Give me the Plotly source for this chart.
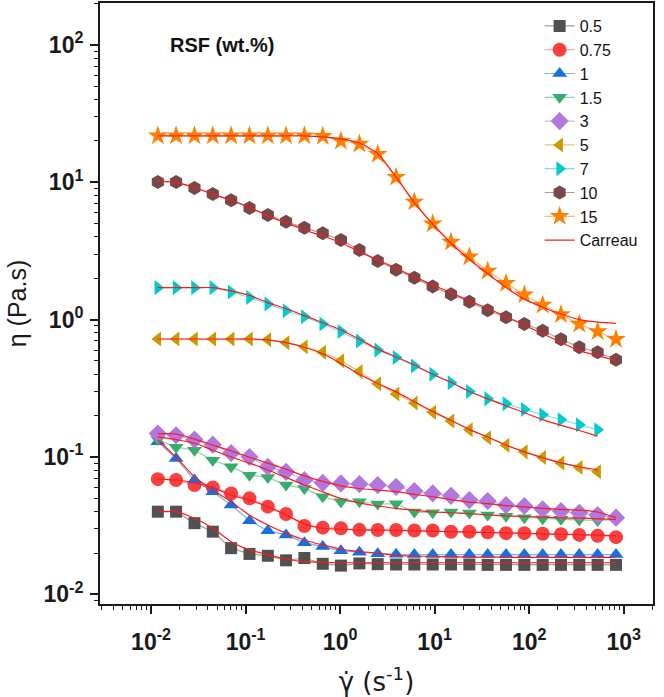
import plotly.graph_objects as go

# shear rate (s^-1), shared grid of the measurements
shear_rate = [0.0118, 0.0184, 0.0288, 0.045, 0.0703, 0.11, 0.172, 0.268, 0.419, 0.655,
              1.02, 1.6, 2.5, 3.91, 6.1, 9.54, 14.9, 23.3, 36.4, 56.9,
              88.9, 139, 217, 339, 530, 829]

series_names = ["0.5", "0.75", "1", "1.5", "3", "5", "7", "10", "15"]

x_tick_vals = [0.01, 0.1, 1, 10, 100, 1000]
x_tick_text = ["10<sup>-2</sup>", "10<sup>-1</sup>", "10<sup>0</sup>",
               "10<sup>1</sup>", "10<sup>2</sup>", "10<sup>3</sup>"]
y_tick_vals = [0.01, 0.1, 1, 10, 100]
y_tick_text = ["10<sup>-2</sup>", "10<sup>-1</sup>", "10<sup>0</sup>",
               "10<sup>1</sup>", "10<sup>2</sup>"]

eta_05 = [0.040, 0.040, 0.033, 0.0286, 0.0217, 0.0197, 0.0191, 0.0177, 0.0184, 0.0167,
          0.0162, 0.0168, 0.0166, 0.0165, 0.0165, 0.0165, 0.0165, 0.0165, 0.0164, 0.0164,
          0.0164, 0.0164, 0.0164, 0.0164, 0.0164, 0.0164]
eta_075 = [0.069, 0.068, 0.0625, 0.060, 0.0543, 0.050, 0.0435, 0.0385, 0.0315, 0.0306,
           0.0303, 0.0295, 0.0294, 0.0294, 0.0292, 0.0292, 0.0286, 0.0286, 0.0283, 0.0279,
           0.0279, 0.0276, 0.0274, 0.0271, 0.0267, 0.0261]
eta_1 = [0.129, 0.0976, 0.068, 0.0558, 0.0447, 0.0344, 0.0291, 0.0271, 0.0238, 0.0223,
         0.0208, 0.0203, 0.0198, 0.0196, 0.0195, 0.0195, 0.0195, 0.0195, 0.0195, 0.0195,
         0.0195, 0.0195, 0.0195, 0.0195, 0.0195, 0.0195]
eta_15 = [0.134, 0.118, 0.112, 0.0948, 0.0848, 0.0738, 0.071, 0.0625, 0.0591, 0.0514,
          0.0473, 0.0473, 0.0455, 0.0457, 0.0398, 0.0393, 0.0398, 0.0391, 0.0378, 0.0371,
          0.0362, 0.0355, 0.0352, 0.0349, 0.0345, 0.035]
eta_3 = [0.148, 0.144, 0.134, 0.123, 0.107, 0.100, 0.0848, 0.078, 0.068, 0.0649,
         0.0642, 0.0635, 0.0625, 0.0607, 0.0565, 0.0543, 0.0522, 0.0486, 0.0478, 0.0447,
         0.044, 0.0416, 0.0404, 0.0393, 0.0378, 0.0362]
eta_5 = [0.723, 0.723, 0.723, 0.723, 0.723, 0.723, 0.715, 0.68, 0.636, 0.578,
         0.503, 0.419, 0.341, 0.288, 0.247, 0.212, 0.183, 0.158, 0.138, 0.122,
         0.109, 0.099, 0.0906, 0.084, 0.078]
eta_7 = [1.71, 1.71, 1.71, 1.71, 1.59, 1.45, 1.30, 1.16, 1.05, 0.93,
         0.82, 0.70, 0.60, 0.53, 0.46, 0.40, 0.347, 0.30, 0.265, 0.244,
         0.222, 0.203, 0.187, 0.172, 0.158]
eta_10 = [10.05, 10.05, 9.1, 8.2, 7.4, 6.5, 5.77, 5.15, 4.66, 4.25,
          3.8, 3.21, 2.67, 2.31, 2.02, 1.74, 1.53, 1.35, 1.17, 1.04,
          0.93, 0.83, 0.72, 0.63, 0.58, 0.51]
eta_15wt = [21.8, 21.8, 21.8, 21.8, 21.8, 21.8, 21.8, 21.8, 21.8, 21.6,
            20.0, 19.0, 16.0, 10.9, 7.2, 4.98, 3.67, 2.87, 2.26, 1.84,
            1.52, 1.28, 1.09, 0.93, 0.82, 0.72]

# Carreau fits, read at the same shear rates
fit_05 = [0.040, 0.040, 0.0358, 0.0303, 0.0242, 0.0211, 0.0194, 0.0181, 0.0173, 0.0171,
          0.0170, 0.0170, 0.0170, 0.0170, 0.0170, 0.0170, 0.0170, 0.0170, 0.0170, 0.0170,
          0.0170, 0.0170, 0.0170, 0.0170, 0.0170, 0.0170]
fit_075 = [0.069, 0.068, 0.0648, 0.0601, 0.0528, 0.0486, 0.0435, 0.0378, 0.0326, 0.0303,
           0.0298, 0.0294, 0.0294, 0.0292, 0.029, 0.0288, 0.0286, 0.0284, 0.0282, 0.028,
           0.0278, 0.0276, 0.0274, 0.0272, 0.027, 0.0268]
fit_1 = [0.133, 0.0996, 0.0718, 0.0574, 0.0473, 0.0378, 0.032, 0.0279, 0.0249, 0.0229,
         0.0213, 0.0205, 0.0200, 0.0192, 0.019, 0.0189, 0.0188, 0.0187, 0.0187, 0.0186,
         0.0186, 0.0186, 0.0186, 0.0186, 0.0186, 0.0186]
fit_15 = [0.14, 0.134, 0.126, 0.112, 0.100, 0.0903, 0.0805, 0.071, 0.0625, 0.0557,
          0.0498, 0.0464, 0.044, 0.0423, 0.041, 0.0398, 0.0393, 0.0386, 0.038, 0.0373,
          0.0369, 0.0365, 0.036, 0.0359, 0.0355, 0.0352]
fit_3 = [0.148, 0.147, 0.135, 0.122, 0.111, 0.0996, 0.0903, 0.0814, 0.0729, 0.0664,
         0.0617, 0.059, 0.0575, 0.056, 0.0535, 0.0514, 0.049, 0.047, 0.0458, 0.0443,
         0.0433, 0.0423, 0.0416, 0.041, 0.0398, 0.0362]
fit_5 = [0.723, 0.723, 0.723, 0.723, 0.723, 0.723, 0.713, 0.68, 0.63, 0.564,
         0.48, 0.40, 0.343, 0.298, 0.253, 0.215, 0.185, 0.159, 0.14, 0.122,
         0.109, 0.099, 0.0906, 0.0849, 0.0806]
fit_7 = [1.71, 1.71, 1.71, 1.71, 1.62, 1.50, 1.33, 1.20, 1.07, 0.95,
         0.84, 0.72, 0.61, 0.535, 0.468, 0.40, 0.35, 0.30, 0.265, 0.236,
         0.21, 0.187, 0.17, 0.156, 0.142]
fit_10 = [10.3, 9.95, 9.2, 8.2, 7.4, 6.59, 5.67, 5.07, 4.49, 4.06,
          3.63, 3.12, 2.72, 2.37, 2.05, 1.79, 1.57, 1.37, 1.21, 1.05,
          0.91, 0.79, 0.684, 0.595, 0.547, 0.503]
fit_15wt = [21.8, 21.8, 21.8, 21.8, 21.8, 21.8, 21.8, 21.8, 21.8, 21.4,
            20.7, 19.3, 16.2, 10.9, 7.1, 4.95, 3.6, 2.75, 2.16, 1.71,
            1.41, 1.23, 1.10, 1.00, 0.96, 0.94]

measured = [eta_05, eta_075, eta_1, eta_15, eta_3, eta_5, eta_7, eta_10, eta_15wt]
fits = [fit_05, fit_075, fit_1, fit_15, fit_3, fit_5, fit_7, fit_10, fit_15wt]

colors = ["#515151", "#F84040", "#1A6FDF", "#37AD6B", "#B177DE",
          "#CC9900", "#00CBCC", "#774848", "#FF8000"]
line_colors = ["rgba(81,81,81,0.55)", "rgba(248,64,64,0.45)", "rgba(26,111,223,0.55)",
               "rgba(55,173,107,0.55)", "rgba(177,119,222,0.55)", "rgba(204,153,0,0.55)",
               "rgba(0,203,204,0.55)", "rgba(119,72,72,0.55)", "rgba(255,128,0,0.55)"]
symbols = ["square", "circle", "triangle-up", "triangle-down", "diamond",
           "triangle-left", "triangle-right", "hexagon", "star"]
sizes = [12, 14, 13, 13, 14, 13, 13, 14, 15]

fig = go.Figure()
for name, y, c, lc, sym, sz in zip(series_names, measured, colors, line_colors, symbols, sizes):
    fig.add_trace(go.Scatter(
        x=shear_rate[:len(y)], y=y, name=name, mode="lines+markers",
        line=dict(color=lc, width=1.2),
        marker=dict(symbol=sym, size=sz, color=c, line=dict(width=0)),
    ))

for i, f in enumerate(fits):
    fig.add_trace(go.Scatter(
        x=shear_rate[:len(f)], y=f, name="Carreau", mode="lines",
        line=dict(color="#FF1A1A", width=1.2, shape="spline", smoothing=0.6),
        showlegend=(i == 0), legendgroup="carreau",
    ))

axis_common = dict(
    type="log",
    showline=True, linecolor="#1a1a1a", linewidth=2, mirror=True,
    ticks="outside", ticklen=8, tickwidth=1.5, tickcolor="#1a1a1a",
    minor=dict(ticks="outside", ticklen=4, tickwidth=1.2, tickcolor="#1a1a1a", dtick="D1", showgrid=False),
    showgrid=False, zeroline=False,
    tickfont=dict(family="Liberation Sans, Arial", size=23, color="#1a1a1a", weight="bold"),
)

fig.update_xaxes(**axis_common, range=[-2.54, 3.31], ticklabelstandoff=8,
                 tickmode="array", tickvals=x_tick_vals, ticktext=x_tick_text,
                 title=dict(text="γ̇ (s<sup>-1</sup>)", standoff=22,
                            font=dict(family="DejaVu Sans", size=26, color="#1a1a1a")))
fig.update_yaxes(**axis_common, range=[-2.07, 2.305], ticklabelstandoff=2,
                 tickmode="array", tickvals=y_tick_vals, ticktext=y_tick_text,
                 title=dict(text="η (Pa.s)", standoff=10,
                            font=dict(family="Liberation Sans, Arial", size=25, color="#1a1a1a")))

fig.add_annotation(text="RSF (wt.%)", xref="paper", yref="paper", x=0.123, y=0.930,
                   xanchor="left", yanchor="middle", showarrow=False,
                   font=dict(family="Liberation Sans, Arial", size=20, color="#111111", weight="bold"))

fig.update_layout(
    width=664, height=697,
    margin=dict(l=100, r=11, t=1, b=93),
    paper_bgcolor="white", plot_bgcolor="white",
    showlegend=True,
    legend=dict(x=0.795, y=0.99, xanchor="left", yanchor="top",
                bgcolor="rgba(0,0,0,0)", borderwidth=0,
                font=dict(family="Liberation Sans, Arial", size=16, color="#111111"),
                tracegroupgap=0),
)

fig.write_html("out.html")
